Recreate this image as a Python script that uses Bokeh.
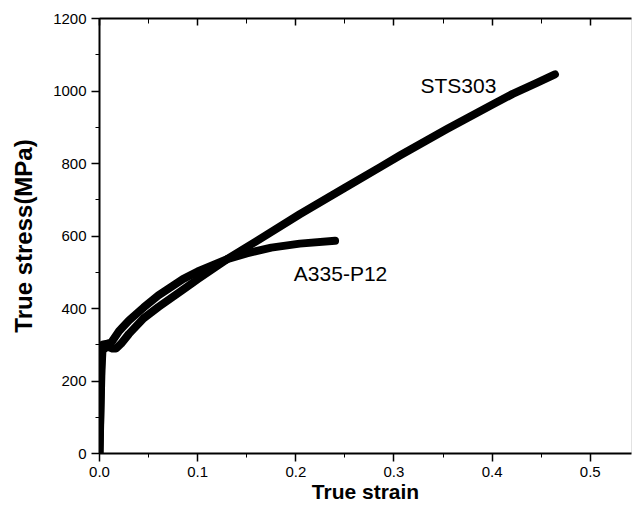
from bokeh.plotting import figure
from bokeh.models import (Range1d, LinearAxis, SingleIntervalTicker, PrintfTickFormatter,
                          Label, CustomJSTickFormatter)
from bokeh.embed import file_html
from bokeh.resources import INLINE

# True strain / true stress (MPa)
sts303_strain = [0.0, 0.001, 0.002, 0.003, 0.008, 0.013, 0.017, 0.022, 0.03, 0.045, 0.06, 0.085,
                 0.1, 0.13, 0.16, 0.204, 0.25, 0.286, 0.306, 0.354, 0.4, 0.421, 0.445, 0.464]
sts303_stress = [0, 120, 230, 285, 295, 290, 290, 303, 330, 373, 404, 452,
                 481, 536, 586, 660, 733, 790, 822, 895, 962, 992, 1022, 1046]

a335_strain = [0.0, 0.001, 0.002, 0.003, 0.008, 0.012, 0.02, 0.03, 0.045, 0.06, 0.085, 0.1,
               0.13, 0.15, 0.175, 0.204, 0.24]
a335_stress = [0, 150, 270, 300, 303, 306, 338, 367, 403, 436, 481, 502,
               536, 552, 568, 579, 587]

x_ticks_interval = 0.1
y_ticks_interval = 200

FONT = "Liberation Sans"

p = figure(width=632, height=505, output_backend="svg", toolbar_location=None,
           x_range=Range1d(0, 0.542), y_range=Range1d(0, 1200),
           min_border_left=99, min_border_right=1, min_border_top=18, min_border_bottom=52)
p.background_fill_color = "white"
p.border_fill_color = "white"
p.outline_line_color = "#e2e2e2"
p.grid.visible = False

p.line(sts303_strain, sts303_stress, line_width=8, line_color="black", line_cap="round", line_join="round")
p.line(a335_strain, a335_stress, line_width=8, line_color="black", line_cap="round", line_join="round")


def style_axis(ax):
    ax.axis_line_color = "black"
    ax.major_tick_line_color = "black"
    ax.minor_tick_line_color = "black"
    ax.major_label_text_color = "black"
    ax.axis_label_text_color = "black"
    ax.axis_line_width = 2
    ax.major_tick_line_width = 1.5


# bottom axis
xa = p.xaxis[0]
style_axis(xa)
xa.ticker = SingleIntervalTicker(interval=x_ticks_interval, num_minor_ticks=2)
xa.formatter = PrintfTickFormatter(format="%.1f")
xa.axis_label = "True strain"
xa.axis_label_text_font = FONT
xa.axis_label_text_font_style = "bold"
xa.axis_label_text_font_size = "21px"
xa.axis_label_standoff = 0
xa.major_label_text_font = FONT
xa.major_label_text_font_size = "15px"
xa.major_label_standoff = 5
xa.major_tick_out = 8
xa.major_tick_in = 0
xa.minor_tick_out = 4
xa.minor_tick_in = 0

# left axis
ya = p.yaxis[0]
style_axis(ya)
ya.ticker = SingleIntervalTicker(interval=y_ticks_interval, num_minor_ticks=2)
ya.axis_label = "True stress(MPa)"
ya.axis_label_text_font = FONT
ya.axis_label_text_font_style = "bold"
ya.axis_label_text_font_size = "24px"
ya.axis_label_standoff = 13
ya.major_label_text_font = FONT
ya.major_label_text_font_size = "15px"
ya.major_label_standoff = 5
ya.major_tick_out = 8
ya.major_tick_in = 0
ya.minor_tick_out = 4
ya.minor_tick_in = 0

# top axis (ticks inward, no labels)
top = LinearAxis(ticker=SingleIntervalTicker(interval=x_ticks_interval, num_minor_ticks=2),
                 formatter=CustomJSTickFormatter(code="return '';"))
style_axis(top)
top.major_label_standoff = 0
top.major_tick_in = 7
top.major_tick_out = 0
top.minor_tick_in = 5
top.minor_tick_out = 0
p.add_layout(top, "above")

p.add_layout(Label(x=0.327, y=1014, text="STS303", text_font=FONT, text_font_size="21px",
                   text_color="black", text_baseline="alphabetic"))
p.add_layout(Label(x=0.198, y=497, text="A335-P12", text_font=FONT, text_font_size="21px",
                   text_color="black", text_baseline="alphabetic"))

open("out.html", "w").write(file_html(p, INLINE))
